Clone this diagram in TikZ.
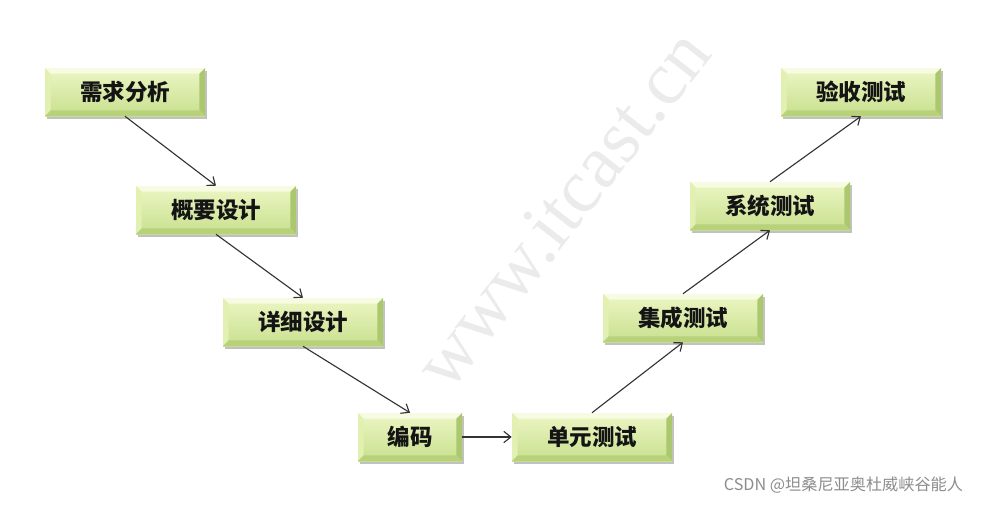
\documentclass[tikz,border=0pt]{standalone}
\usepackage{fontspec}
\newfontfamily\cjk{Noto Sans CJK SC}
\newfontfamily\filigrane{Liberation Serif}
\usetikzlibrary{shadows,arrows.meta}

\definecolor{faceHaut}{RGB}{236,246,196}
\definecolor{faceBas}{RGB}{200,224,142}
\definecolor{biseauHaut}{RGB}{246,251,226}
\definecolor{biseauGauche}{RGB}{226,240,178}
\definecolor{biseauDroit}{RGB}{172,200,110}
\definecolor{biseauBas}{RGB}{184,210,124}

\tikzset{
  etape/.style={minimum width=4cm, minimum height=1.2cm, inner sep=0pt,
    font=\cjk\bfseries\fontsize{16}{16}\selectfont, text=black!92,
    top color=faceHaut, bottom color=faceBas,
    drop shadow={shadow xshift=1.5pt, shadow yshift=-1.8pt, opacity=.35, fill=black!70},
    path picture={
      \path (path picture bounding box.north west) coordinate (no)
            (path picture bounding box.north east) coordinate (ne)
            (path picture bounding box.south east) coordinate (se)
            (path picture bounding box.south west) coordinate (so);
      \fill[biseauHaut] (no) -- (ne) -- ([shift={(-4pt,-4pt)}]ne) -- ([shift={(4pt,-4pt)}]no) -- cycle;
      \fill[biseauGauche] (no) -- (so) -- ([shift={(4pt,4pt)}]so) -- ([shift={(4pt,-4pt)}]no) -- cycle;
      \fill[biseauDroit] (ne) -- (se) -- ([shift={(-4pt,4pt)}]se) -- ([shift={(-4pt,-4pt)}]ne) -- cycle;
      \fill[biseauBas] (so) -- (se) -- ([shift={(-4pt,4pt)}]se) -- ([shift={(4pt,4pt)}]so) -- cycle;
    }},
  fleche/.style={-{Straight Barb[length=5pt,width=8pt]}, draw=black!80, line width=0.8pt}
}

\begin{document}
\begin{tikzpicture}
      \useasboundingbox (0, 0) rectangle (24.575, 12.6);

      % filigrane (coupe en haut)
      \begin{scope}
        \clip (0, 0) rectangle (24.575, 11.675);
        \node[font=\filigrane\fontsize{54}{54}\selectfont, text=black!8, rotate=52, anchor=base west]
          (marque) at (11.15, 2.675) {www.itcast.cn};
      \end{scope}

      % branche descendante
      \node[etape] (besoin)   at (3.125, 10.3)  {需求分析};
      \node[etape] (global)   at (5.4, 7.35)    {概要设计};
      \node[etape] (detail)   at (7.575, 4.55)  {详细设计};
      \node[etape, minimum width=2.6cm] (codage) at (10.25, 1.675) {编码};

      % branche montante
      \node[etape] (unitaire)    at (14.8, 1.675)   {单元测试};
      \node[etape] (integration) at (17.075, 4.65)  {集成测试};
      \node[etape] (systeme)     at (19.25, 7.45)   {系统测试};
      \node[etape] (recette)     at (21.525, 10.3)  {验收测试};

      % liaisons
      \draw[fleche] (besoin.south) -- (global.north);
      \draw[fleche] (global.south) -- (detail.north);
      \draw[fleche] (detail.south) -- (codage.north);
      \draw[fleche] (codage.east) -- (unitaire.west);
      \draw[fleche] (unitaire.north) -- (integration.south);
      \draw[fleche] (integration.north) -- (systeme.south);
      \draw[fleche] (systeme.north) -- (recette.south);

      % signature
      \node[font=\cjk\fontsize{11.5}{12}\selectfont, text=black!45, anchor=east]
        (signature) at (24.2, 0.47) {CSDN @坦桑尼亚奥杜威峡谷能人};
\end{tikzpicture}
\end{document}
